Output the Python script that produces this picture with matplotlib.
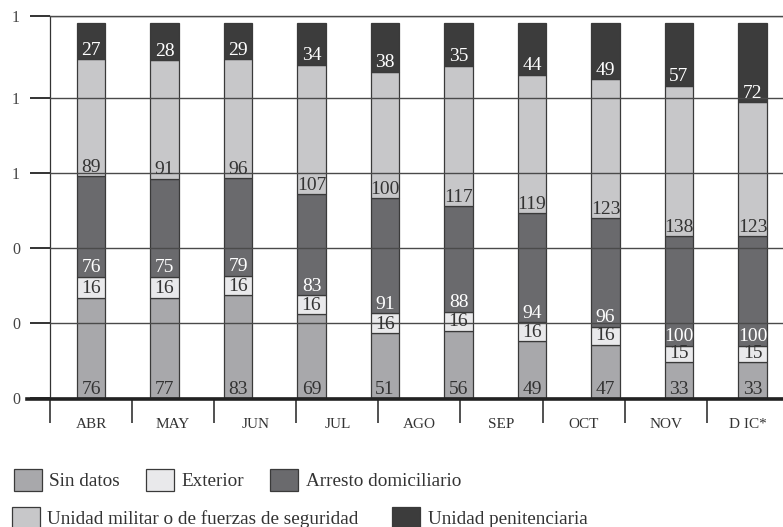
import matplotlib
matplotlib.use("Agg")
import matplotlib.pyplot as plt
import numpy as np
from matplotlib.lines import Line2D

plt.rcParams['font.family'] = ['Liberation Serif', 'DejaVu Serif']

# Monthly counts by place of detention
months = ["ABR", "MAY", "JUN", "JUL", "AGO", "SEP", "OCT", "NOV", "D IC*"]
series_names = ["Sin datos", "Exterior", "Arresto domiciliario",
                "Unidad militar o de fuerzas de seguridad", "Unidad penitenciaria"]
sin_datos = [76, 77, 83, 69, 51, 56, 49, 47, 33, 33]
exterior = [16, 16, 16, 16, 16, 16, 16, 16, 15, 15]
arresto = [76, 75, 79, 83, 91, 88, 94, 96, 100, 100]
militar = [89, 91, 96, 107, 100, 117, 119, 123, 138, 123]
penitenciaria = [27, 28, 29, 34, 38, 35, 44, 49, 57, 72]
y_ticks = [0, 0.2, 0.4, 0.6, 0.8, 1.02]

series = [sin_datos, exterior, arresto, militar, penitenciaria]
colors = ["#a8a8ab", "#e9e9eb", "#6a6a6d", "#c7c7c9", "#3c3c3c"]
label_colors = ["#333333", "#333333", "#ffffff", "#333333", "#ffffff"]

W, H = 783, 527
fig = plt.figure(figsize=(W / 100, H / 100), dpi=100)


def fx(x):
    return x / W


def fy(y):
    return 1 - y / H


ax = fig.add_axes([fx(50), fy(398), (783 - 50) / W, (398 - 16) / H])

data = np.array(series, dtype=float)
totals = data.sum(axis=0)
shares = data / totals
x = np.arange(data.shape[1])
bar_w = 0.39

bottom = np.zeros(data.shape[1])
containers = []
for i, name in enumerate(series_names):
    bc = ax.bar(x, shares[i], bar_w, bottom=bottom, color=colors[i],
                edgecolor="#3a3a3a", linewidth=0.9, label=name, zorder=1)
    containers.append(bc)
    for j in range(data.shape[1]):
        ax.annotate(f"{int(data[i, j])}", (x[j], bottom[j]), xytext=(0, 0.3),
                    textcoords="offset points", ha="center", va="bottom",
                    fontsize=14, color=label_colors[i], zorder=4)
    bottom = bottom + shares[i]

ax.set_xlim(-0.558, 9.415)
ax.set_ylim(0, 1.02)
ax.set_yticks(y_ticks)
ax.set_yticklabels([f"{v:.0f}" for v in y_ticks])
ax.set_xticks([])
ax.grid(axis="y", color="#4a4a4a", linewidth=1.0)
ax.set_axisbelow(False)
ax.tick_params(axis="y", length=14.5, width=1.4, color="#333333", pad=7,
               labelsize=11.5, labelcolor="#444444")
for side in ("right", "bottom"):
    ax.spines[side].set_visible(False)
ax.spines["top"].set_color("#4a4a4a")
ax.spines["top"].set_linewidth(1.0)
ax.spines["left"].set_color("#333333")
ax.spines["left"].set_linewidth(0.9)
ax.patch.set_visible(False)

# Category axis with its own separators
lab = fig.add_axes([fx(50), fy(398), 9 * 82.1 / W, (398 - 16) / H], zorder=-1)
lab.patch.set_visible(False)
for s in lab.spines.values():
    s.set_visible(False)
lab.set_xlim(0, len(months))
lab.set_ylim(0, 1)
lab.set_yticks([])
lab.set_xticks(np.arange(len(months) + 1))
lab.set_xticklabels([])
lab.set_xticks(np.arange(len(months)) + 0.5, minor=True)
lab.set_xticklabels(months, minor=True)
lab.tick_params(axis="x", which="major", length=18, width=1.2, color="#333333")
lab.tick_params(axis="x", which="minor", length=0, pad=14.5, labelsize=11,
                labelcolor="#333333")

# Heavy baseline
fig.add_artist(Line2D([fx(27), fx(783)], [fy(398.5), fy(398.5)], lw=2.6,
                      color="#222222", zorder=5))

legend_kw = dict(frameon=False, fontsize=13.8, handlelength=1.45,
                 handleheight=1.4, handletextpad=0.4,
                 borderpad=0, borderaxespad=0, loc="upper left",
                 labelcolor="#333333")
fig.legend(containers[:3], series_names[:3], ncol=3, columnspacing=1.35,
           bbox_to_anchor=(fx(14), fy(469)), **legend_kw)
fig.legend(containers[3:], series_names[3:], ncol=2, columnspacing=1.75,
           bbox_to_anchor=(fx(12), fy(507)), **legend_kw)

fig.savefig("out.png", dpi=100)
